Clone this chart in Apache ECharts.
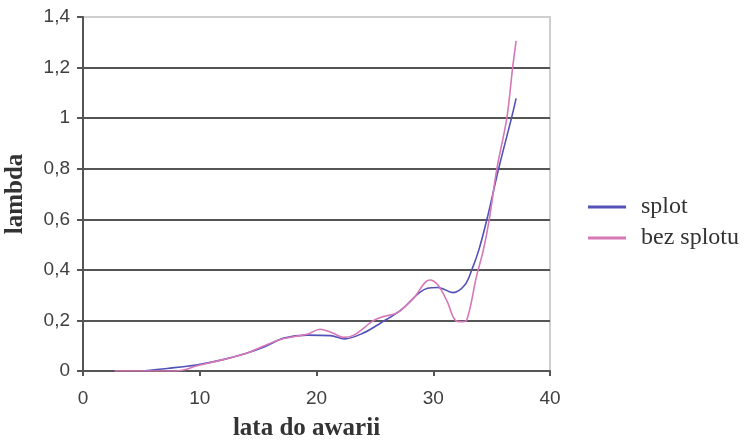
<!DOCTYPE html>
<html><head><meta charset="utf-8">
<script src="https://cdn.jsdelivr.net/npm/echarts@6/dist/echarts.min.js"></script>
<style>html,body{margin:0;padding:0;background:#fff}#c{width:751px;height:441px}</style>
</head><body><div id="c"></div>
<script>
const seriesNames = ['splot', 'bez splotu'];
const splotData = [[5.1,0],[7.2,0.01],[9.7,0.024],[12,0.045],[14,0.07],[15.5,0.095],[17.2,0.13],[19.2,0.142],[21.2,0.14],[22.4,0.127],[24,0.15],[25.5,0.19],[27.2,0.24],[29.5,0.327],[30.4,0.33],[31.7,0.31],[32.7,0.34],[33.3,0.40],[33.9,0.478],[34.6,0.6],[35.6,0.8],[36.7,1.0],[37.1,1.078]];
const bezSplotuData = [[2.7,0],[8,0],[8.9,0.007],[9.7,0.02],[12,0.045],[14,0.07],[16.9,0.125],[19.2,0.145],[20.3,0.165],[21.45,0.149],[22.3,0.133],[23.2,0.142],[24.9,0.2],[25.7,0.215],[26.9,0.23],[28.3,0.287],[29.7,0.36],[30.4,0.34],[31.2,0.274],[31.9,0.2],[32.45,0.195],[32.85,0.2],[33.7,0.373],[34.3,0.48],[34.8,0.6],[35.45,0.8],[36.3,1.0],[36.8,1.2],[37.1,1.306]];
const xTicks = {min: 0, max: 40, interval: 10};
const yTicks = {min: 0, max: 1.4, interval: 0.2};
const xTitle = 'lata do awarii';
const yTitle = 'lambda';

const chart = echarts.init(document.getElementById('c'));
const axisLabelStyle = {fontFamily: 'Liberation Sans', fontSize: 19, color: '#404040'};
const nameStyle = {fontFamily: 'Liberation Serif', fontSize: 25, fontWeight: 'bold', color: '#333'};
const dark = '#555', light = '#cfcfcf';
chart.setOption({
  animation: false,
  backgroundColor: '#fff',
  grid: {left: 83, right: 201, top: 17, bottom: 70, show: true, borderColor: light, borderWidth: 2,
         containLabel: false, outerBoundsMode: 'none'},
  legend: {
    orient: 'vertical', left: 583, top: 190, itemGap: 7,
    itemWidth: 38, itemHeight: 3, icon: 'rect',
    textStyle: {fontFamily: 'Liberation Serif', fontSize: 24, color: '#333', padding: [0,0,0,10]},
    data: seriesNames
  },
  xAxis: {
    type: 'value', min: xTicks.min, max: xTicks.max, interval: xTicks.interval,
    name: xTitle, nameLocation: 'middle', nameGap: 45, nameTextStyle: Object.assign({padding: [0, 20, 0, 0]}, nameStyle),
    axisLine: {show: true, onZero: false, lineStyle: {color: dark, width: 2}},
    axisTick: {show: true, inside: false, length: 5, lineStyle: {color: dark, width: 2}},
    axisLabel: Object.assign({margin: 18}, axisLabelStyle),
    splitLine: {show: false}
  },
  yAxis: {
    type: 'value', min: yTicks.min, max: yTicks.max, interval: yTicks.interval,
    name: yTitle, nameLocation: 'middle', nameGap: 55, nameRotate: 90, nameTextStyle: nameStyle,
    axisLine: {show: true, lineStyle: {color: dark, width: 2}},
    axisTick: {show: true, length: 6, lineStyle: {color: dark, width: 2}},
    axisLabel: Object.assign({margin: 13, formatter: v => String(+v.toFixed(1)).replace('.', ',')}, axisLabelStyle),
    splitLine: {show: true, lineStyle: {color: [dark, dark, dark, dark, dark, dark, dark, light], width: 2}}
  },
  series: [
    {name: seriesNames[0], type: 'line', data: splotData, showSymbol: false, symbol: 'none', smooth: 0.35,
     color: '#5252b8', lineStyle: {width: 1.6, color: '#5252b8'}},
    {name: seriesNames[1], type: 'line', data: bezSplotuData, showSymbol: false, symbol: 'none', smooth: 0.35,
     color: '#d677b8', lineStyle: {width: 1.6, color: '#d677b8'}}
  ]
});
</script></body></html>
